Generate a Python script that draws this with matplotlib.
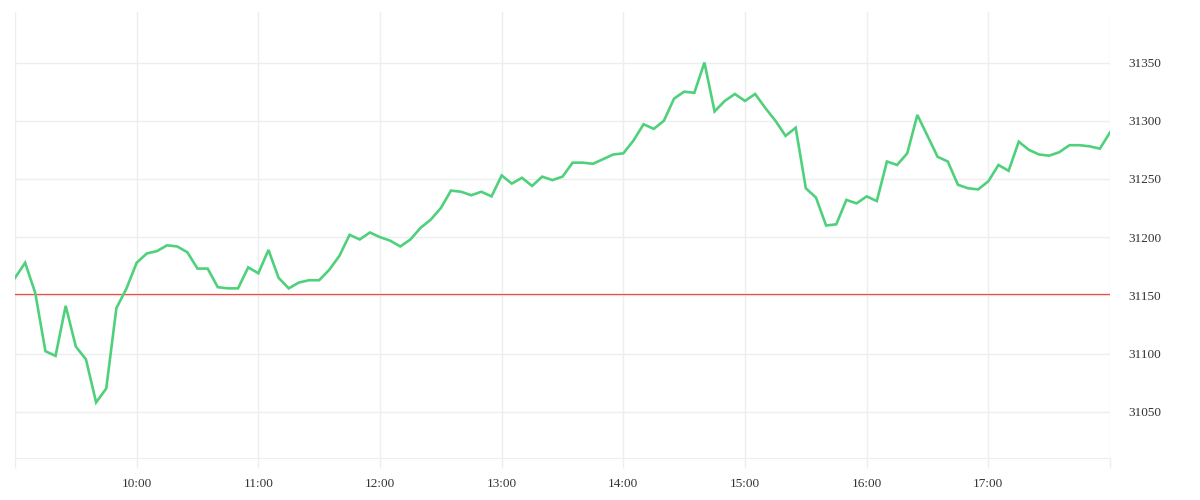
import pandas as pd
import matplotlib
matplotlib.use("Agg")
import matplotlib.pyplot as plt
import matplotlib.dates as mdates

# 5-minute prices, 09:00 .. 18:00
prices = [
    31165, 31178, 31152, 31102, 31098, 31141, 31106, 31095, 31058, 31070,
    31139, 31156, 31178, 31186, 31188, 31193, 31192, 31187, 31173, 31173,
    31157, 31156, 31156, 31174, 31169, 31189, 31165, 31156, 31161, 31163,
    31163, 31172, 31184, 31202, 31198, 31204, 31200, 31197, 31192, 31198,
    31208, 31215, 31225, 31240, 31239, 31236, 31239, 31235, 31253, 31246,
    31251, 31244, 31252, 31249, 31252, 31264, 31264, 31263, 31267, 31271,
    31272, 31283, 31297, 31293, 31300, 31319, 31325, 31324, 31350, 31308,
    31317, 31323, 31317, 31323, 31311, 31300, 31287, 31294, 31242, 31234,
    31210, 31211, 31232, 31229, 31235, 31231, 31265, 31262, 31272, 31305,
    31287, 31269, 31265, 31245, 31242, 31241, 31248, 31262, 31257, 31282,
    31275, 31271, 31270, 31273, 31279, 31279, 31278, 31276, 31290,
]
ref_price = 31151
y_ticks = [31050, 31100, 31150, 31200, 31250, 31300, 31350]
hour_labels = ["", "10:00", "11:00", "12:00", "13:00", "14:00", "15:00", "16:00", "17:00", ""]

times = pd.date_range("2024-01-02 09:00", periods=len(prices), freq="5min")
hours = pd.date_range("2024-01-02 09:00", "2024-01-02 18:00", freq="1h")

plt.rcParams["font.family"] = ["Liberation Serif", "DejaVu Serif"]

fig = plt.figure(figsize=(12, 5), dpi=100)
ax = fig.add_axes([15 / 1200, 41.7 / 500, 1095 / 1200, 445.8 / 500])

ax.plot(times, prices, color="#4fd17c", lw=1.9, solid_joinstyle="miter", zorder=3)
ax.axhline(ref_price, color="#f04a4a", lw=0.9, zorder=2)

ax.set_xlim(times[0], times[-1])
ax.set_ylim(31010, 31393)

ax.set_xticks(hours)
ax.set_xticklabels(hour_labels)
ax.set_yticks(y_ticks)
ax.yaxis.tick_right()

ax.grid(True, color="#eeeeee", lw=1)
ax.tick_params(axis="x", length=7, width=1, color="#eeeeee", labelsize=9.5,
               labelcolor="#333333", pad=7.5)
ax.tick_params(axis="y", length=0, labelsize=9.5, labelcolor="#333333", pad=13)

for side in ("top", "left", "right"):
    ax.spines[side].set_visible(False)
ax.spines["bottom"].set_color("#eeeeee")

fig.savefig("out.png", dpi=100)
